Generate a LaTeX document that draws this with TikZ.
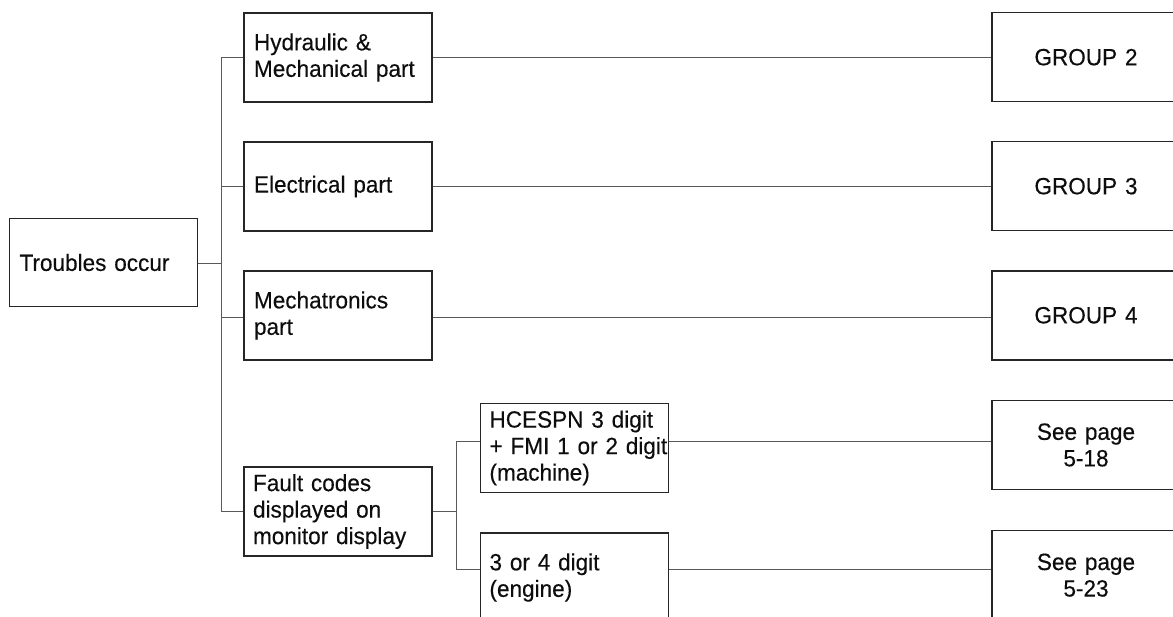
\documentclass[tikz,border=0pt]{standalone}
\usepackage{fontspec}
\setmainfont[FakeStretch=0.96,WordSpace=0.8,FakeBold=0.3]{Liberation Sans}
\begin{document}
\begin{tikzpicture}[x=1pt,y=-1pt,
  box/.style={draw=black!85, line width=1.5pt, minimum width=188pt, minimum height=89pt,
    inner xsep=9pt, inner ysep=0pt, text=black!95,
    font=\fontsize{23.5}{26.5}\selectfont},
  lbox/.style={box, text width=170pt, align=left},
  rbox/.style={box, text width=170pt, align=center},
  conn/.style={draw=black!65, line width=1pt}]
\useasboundingbox (0,0) rectangle (1173,617);
\clip (0,0) rectangle (1173,617);
% nodes
\node[lbox, minimum width=187pt, minimum height=88pt] (tr) at (103.5,262.5) {\hspace*{1pt}Troubles occur};
\node[lbox] (hyd) at (338,57.5) {\hspace*{1pt}Hydraulic \&\\\hspace*{1pt}Mechanical part};
\node[lbox] (ele) at (338,186.5) {\hspace*{1pt}Electrical part};
\node[lbox] (mec) at (338,315.5) {\hspace*{1pt}Mechatronics\\\hspace*{1pt}part};
\node[lbox] (flt) at (338,511.5) {Fault codes\\displayed on\\monitor display};
\node[lbox] (hce) at (574.5,448) {HCESPN 3 digit\\\mbox{+ FMI 1 or 2 digit}\\(machine)};
\node[lbox] (e34) at (574.5,577.5) {3 or 4 digit\\(engine)};
\node[rbox] (g2) at (1086,57.2) {GROUP 2};
\node[rbox] (g3) at (1086,186.2) {GROUP 3};
\node[rbox] (g4) at (1086,315.3) {GROUP 4};
\node[rbox] (s18) at (1086,445) {See page\\5-18};
\node[rbox] (s23) at (1086,575.2) {See page\\5-23};
% trunk
\coordinate (tk) at (221,263.5);
\coordinate (mj) at (221,318);
\coordinate (f1) at (456,441.5);
\coordinate (f2) at (456,569);
\draw[conn] (tr.east |- tk) -- (tk);
\draw[conn] (hyd.west) -- (hyd.west -| tk) -- (flt.west -| tk) -- (flt.west);
\draw[conn] (ele.west) -- (ele.west -| tk);
\draw[conn] (mj) -- (mj -| mec.west);
% long connectors
\draw[conn] (hyd.east) -- (hyd.east -| g2.west);
\draw[conn] (ele.east) -- (ele.east -| g3.west);
\draw[conn] (mj -| mec.east) -- (mj -| g4.west);
% fault branches
\draw[conn] (flt.east) -- (flt.east -| f1);
\draw[conn] (f1 -| hce.west) -- (f1) -- (f2) -- (f2 -| e34.west);
\draw[conn] (f1 -| hce.east) -- (f1 -| s18.west);
\draw[conn] (f2 -| e34.east) -- (f2 -| s23.west);
\end{tikzpicture}
\end{document}
